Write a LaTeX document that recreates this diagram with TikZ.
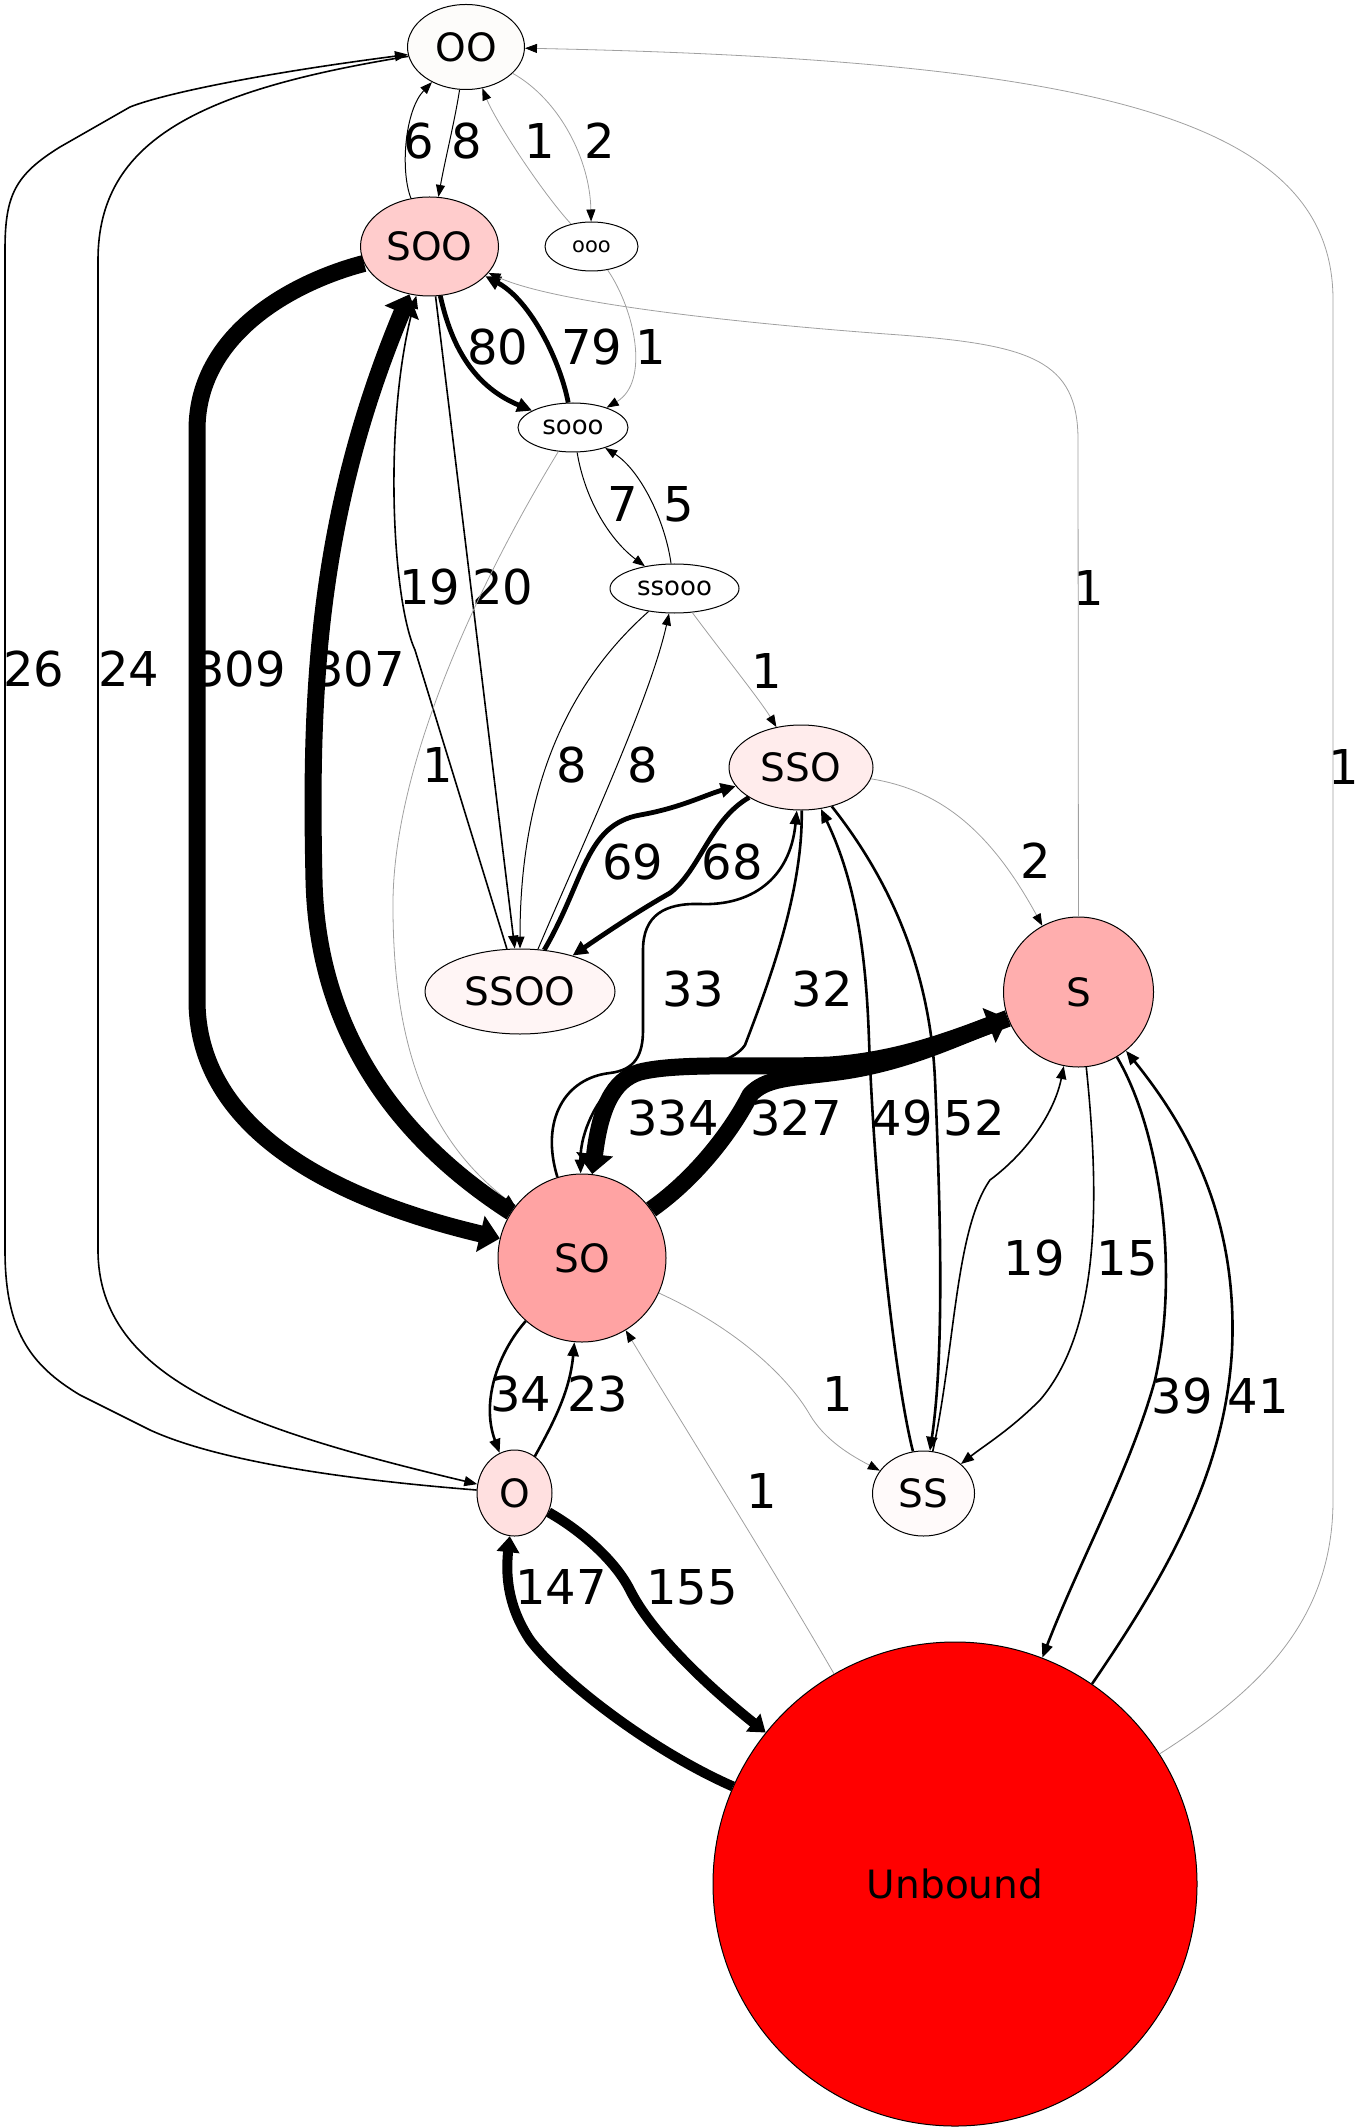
\documentclass[tikz,border=0pt]{standalone}
\usepackage{fontspec}
\setmainfont{DejaVu Sans}
\usetikzlibrary{shapes.geometric,arrows.meta}

\definecolor{cOO}{RGB}{253,252,250}
\definecolor{cSOO}{RGB}{255,204,204}
\definecolor{cSSO}{RGB}{255,236,236}
\definecolor{cSSOO}{RGB}{255,245,245}
\definecolor{cS}{RGB}{255,174,174}
\definecolor{cSO}{RGB}{255,163,163}
\definecolor{cO}{RGB}{255,224,224}
\definecolor{cSS}{RGB}{255,250,250}
\definecolor{edgegray}{RGB}{160,160,160}

\begin{document}
\begin{tikzpicture}[x=0.5pt,y=-0.5pt,
    state/.style={draw,line width=0.5pt,inner sep=0pt,font=\fontsize{19.5}{19.5}\selectfont},
    oval/.style={state,ellipse},
    round/.style={state,circle},
    lab/.style={inner sep=0pt,font=\fontsize{24}{24}\selectfont},
    lightedge/.style={draw=edgegray,line width=0.4pt,-{Triangle[length=6pt,width=4.5pt,color=black]}},
    thinedge/.style={line width=0.5pt,-{Triangle[length=6pt,width=4.5pt]}},
    lineedge/.style={line width=0.8pt,-{Triangle[length=6.5pt,width=5pt]}},
    midedge/.style={line width=1.3pt,-{Triangle[length=7pt,width=5.5pt]}},
    boldedge/.style={line width=2.4pt,-{Triangle[length=7.5pt,width=7pt]}},
    heavyedge/.style={line width=5pt,-{Triangle[length=8pt,width=11pt]}},
    hugeedge/.style={line width=8.5pt,-{Triangle[length=10pt,width=18pt]}}]
\useasboundingbox (0,0) rectangle (1367,2128);

% states
\node[oval,fill=cOO,minimum width=58.5pt,minimum height=42.5pt] (OO) at (466,47) {OO};
\node[oval,fill=cSOO,minimum width=69pt,minimum height=49.5pt] (SOO) at (429.5,246.5) {SOO};
\node[oval,fill=white,minimum width=46.5pt,minimum height=24.5pt,font=\fontsize{10.5}{10.5}\selectfont] (ooo) at (591.5,246.5) {ooo};
\node[oval,fill=white,minimum width=55pt,minimum height=24.5pt,font=\fontsize{13}{13}\selectfont] (sooo) at (573,427.5) {sooo};
\node[oval,fill=white,minimum width=64.5pt,minimum height=24.5pt,font=\fontsize{13}{13}\selectfont] (ssooo) at (674.5,588.5) {ssooo};
\node[oval,fill=cSSO,minimum width=72pt,minimum height=42.5pt] (SSO) at (801,767.5) {SSO};
\node[oval,fill=cSSOO,minimum width=95pt,minimum height=42.5pt] (SSOO) at (520,991.5) {SSOO};
\node[round,fill=cS,minimum size=75pt] (S) at (1078.5,992) {S};
\node[round,fill=cSO,minimum size=84pt] (SO) at (582,1258) {SO};
\node[oval,fill=cO,minimum width=37.5pt,minimum height=43pt] (O) at (514.5,1493) {O};
\node[oval,fill=cSS,minimum width=51pt,minimum height=42.5pt] (SS) at (923.5,1493.5) {SS};
\node[round,fill=red,minimum size=242pt] (Unbound) at (955,1884) {Unbound};

% counts
\node[lab] (lOtoOO) at (34,669) {26};
\node[lab] (lOOtoO) at (129,669) {24};
\node[lab] (lSOOtoSO) at (240,669) {309};
\node[lab] (lSOtoSOO) at (359,669) {307};
\node[lab] (lSOOtoOO) at (419,141) {6};
\node[lab] (lOOtoSOO) at (467,141) {8};
\node[lab] (loootoOO) at (540,141) {1};
\node[lab] (lOOtoooo) at (600,141) {2};
\node[lab] (lSOOtosooo) at (498,347) {80};
\node[lab] (lsootoSOO) at (592,347) {79};
\node[lab] (looootosooo) at (651,347) {1};
\node[lab] (lsoootossooo) at (623,504) {7};
\node[lab] (lssoootosooo) at (679,504) {5};
\node[lab] (lSSOOtoSOO) at (430,587) {19};
\node[lab] (lSOOtoSSOO) at (503,587) {20};
\node[lab] (lStoSOO) at (1089,588) {1};
\node[lab] (lUnboundtoOO) at (1344,767) {1};
\node[lab] (lssoootoSSO) at (767,671) {1};
\node[lab] (lsoootoSO) at (438,765) {1};
\node[lab] (lssoootoSSOO) at (572,765) {8};
\node[lab] (lSSOOtossooo) at (643,765) {8};
\node[lab] (lSSOOtoSSO) at (633,862) {69};
\node[lab] (lSSOtoSSOO) at (732,862) {68};
\node[lab] (lSSOtoS) at (1036,861) {2};
\node[lab] (lSOtoSSO) at (693,989) {33};
\node[lab] (lSSOtoSO) at (822,989) {32};
\node[lab] (lStoSO) at (673,1118) {334};
\node[lab] (lSOtoS) at (796,1118) {327};
\node[lab] (lSStoSSO) at (902,1118) {49};
\node[lab] (lSSOtoSS) at (974,1118) {52};
\node[lab] (lSStoS) at (1034,1258) {19};
\node[lab] (lStoSS) at (1127,1258) {15};
\node[lab] (lSOtoO) at (521,1394) {34};
\node[lab] (lOtoSO) at (598,1394) {23};
\node[lab] (lSOtoSS) at (838,1394) {1};
\node[lab] (lStoUnbound) at (1182,1396) {39};
\node[lab] (lUnboundtoS) at (1258,1396) {41};
\node[lab] (lUnboundtoSO) at (762,1491) {1};
\node[lab] (lUnboundtoO) at (561,1587) {147};
\node[lab] (lOtoUnbound) at (692,1587) {155};

% transitions
\draw[lineedge] (O) .. controls (350,1480) and (220,1462) .. (150,1430) -- (80,1395) .. controls (30,1365) and (5,1330) .. (5,1250) -- (5,250) .. controls (5,195) and (15,175) .. (60,147) -- (130,107) .. controls (160,95) and (250,75) .. (OO);
\draw[lineedge] (OO) .. controls (200,90) and (98,140) .. (98,260) -- (98,1250) .. controls (98,1380) and (250,1430) .. (O);
\draw[thinedge] (OO) .. controls (455,120) and (445,160) .. (SOO);
\draw[thinedge] (SOO) .. controls (400,170) and (405,110) .. (OO);
\draw[lightedge] (OO) .. controls (560,100) and (590,160) .. (ooo);
\draw[lightedge] (ooo) .. controls (540,190) and (495,120) .. (OO);
\draw[lightedge] (ooo) .. controls (635,310) and (650,382) .. (sooo);
\draw[boldedge] (SOO) .. controls (450,340) and (470,385) .. (sooo);
\draw[boldedge] (sooo) .. controls (560,360) and (530,300) .. (SOO);
\draw[thinedge] (sooo) .. controls (585,500) and (610,540) .. (ssooo);
\draw[thinedge] (ssooo) .. controls (665,520) and (640,470) .. (sooo);
\draw[lightedge] (ssooo) .. controls (720,650) and (760,700) .. (SSO);
\draw[lightedge] (S) -- (1078,440) .. controls (1078,360) and (1030,345) .. (900,335) .. controls (760,325) and (560,305) .. (SOO);
\draw[lightedge] (Unbound) .. controls (1260,1690) and (1333,1620) .. (1333,1500) -- (1333,300) .. controls (1333,120) and (1100,60) .. (OO);
\draw[lineedge] (SOO) -- (SSOO);
\draw[lineedge] (SSOO) -- (415,650) .. controls (392,600) and (383,420) .. (SOO);
\draw[lightedge] (sooo) .. controls (480,580) and (395,760) .. (393,900) .. controls (392,1050) and (430,1140) .. (SO);
\draw[thinedge] (ssooo) .. controls (560,690) and (520,800) .. (SSOO);
\draw[thinedge] (SSOO) .. controls (580,850) and (650,700) .. (ssooo);
\draw[boldedge] (SSOO) .. controls (585,880) and (585,825) .. (640,815) .. controls (680,808) and (705,795) .. (SSO);
\draw[boldedge] (SSO) .. controls (710,820) and (700,870) .. (670,893) .. controls (640,910) and (610,930) .. (SSOO);
\draw[midedge] (SO) .. controls (540,1120) and (565,1078) .. (610,1073) .. controls (635,1070) and (643,1055) .. (643,1030) -- (643,950) .. controls (643,915) and (665,903) .. (700,904) .. controls (750,906) and (790,880) .. (SSO);
\draw[midedge] (SSO) .. controls (803,890) and (770,980) .. (745,1045) .. controls (725,1075) and (640,1070) .. (615,1085) .. controls (600,1095) and (580,1130) .. (SO);
\draw[midedge] (SSO) .. controls (890,880) and (930,970) .. (935,1080) .. controls (940,1200) and (945,1350) .. (SS);
\draw[midedge] (SS) .. controls (895,1380) and (875,1200) .. (869,1040) .. controls (866,950) and (855,880) .. (SSO);
\draw[lightedge] (SSO) .. controls (940,790) and (990,830) .. (S);
\draw[lineedge] (SS) .. controls (955,1350) and (955,1230) .. (990,1180) .. controls (1030,1150) and (1055,1110) .. (S);
\draw[lineedge] (S) .. controls (1100,1200) and (1100,1330) .. (1040,1400) .. controls (1010,1430) and (985,1445) .. (SS);
\draw[midedge] (S) .. controls (1160,1130) and (1180,1270) .. (1155,1380) .. controls (1130,1470) and (1080,1560) .. (Unbound);
\draw[midedge] (Unbound) .. controls (1170,1570) and (1225,1470) .. (1232,1350) .. controls (1238,1220) and (1190,1130) .. (S);
\draw[midedge] (SO) .. controls (500,1350) and (480,1400) .. (O);
\draw[midedge] (O) .. controls (555,1420) and (570,1390) .. (SO);
\draw[lightedge] (SO) .. controls (740,1330) and (790,1380) .. (810,1415) .. controls (825,1440) and (850,1455) .. (SS);
\draw[lightedge] (Unbound) .. controls (780,1580) and (680,1420) .. (SO);
\draw[heavyedge] (O) .. controls (580,1530) and (615,1560) .. (630,1590) .. controls (650,1630) and (700,1680) .. (Unbound);
\draw[heavyedge] (Unbound) .. controls (650,1750) and (560,1680) .. (530,1640) .. controls (510,1610) and (505,1580) .. (O);
\draw[hugeedge] (SOO) .. controls (300,280) and (197,330) .. (197,430) -- (197,1000) .. controls (197,1150) and (380,1210) .. (SO);
\draw[hugeedge] (SO) .. controls (430,1160) and (318,1060) .. (314,880) .. controls (310,700) and (315,520) .. (SOO);
\draw[hugeedge] (S) .. controls (950,1040) and (900,1060) .. (830,1065) .. controls (760,1068) and (680,1062) .. (640,1072) .. controls (612,1080) and (600,1110) .. (SO);
\draw[hugeedge] (SO) .. controls (700,1175) and (735,1125) .. (750,1095) .. controls (765,1078) and (790,1078) .. (830,1073) .. controls (900,1065) and (950,1040) .. (S);
\end{tikzpicture}
\end{document}
